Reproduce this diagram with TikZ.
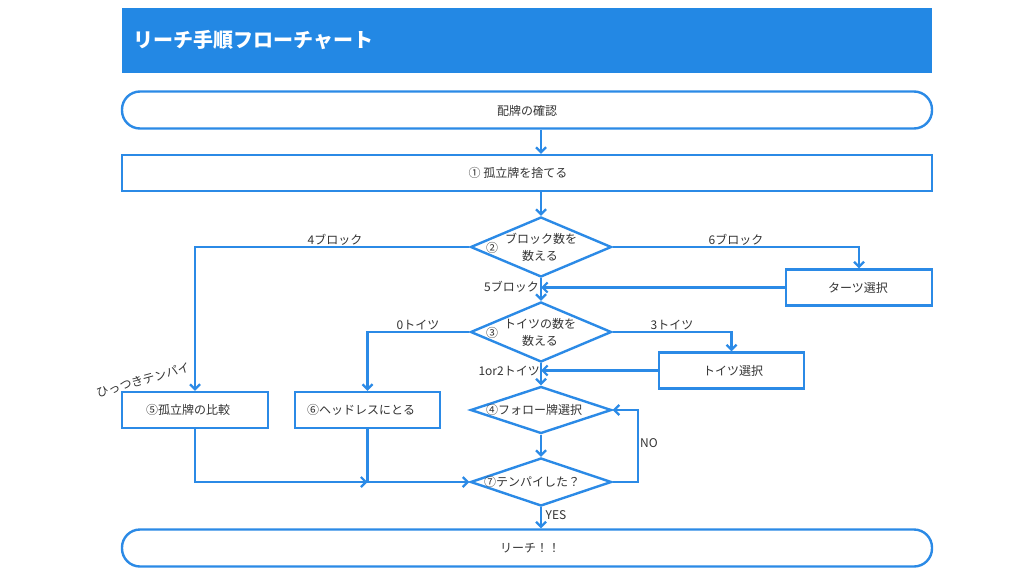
\documentclass[tikz,border=0pt]{standalone}
\usepackage{fontspec}
\setmainfont{Noto Sans CJK JP}
\usetikzlibrary{shapes.geometric,arrows.meta}
\definecolor{fcblue}{HTML}{2B8AE6}
\definecolor{titleblue}{HTML}{2388E4}
\definecolor{txtgray}{HTML}{333333}
\tikzset{
  line/.style={draw=fcblue, line width=2.4pt},
  arr/.style={line, -{Straight Barb[length=5pt,width=10pt,line width=2.2pt]}},
  box/.style={line, rectangle, fill=white, inner sep=0pt},
  pill/.style={line, rectangle, rounded corners=18pt, fill=white, inner sep=0pt},
  diam/.style={line, diamond, fill=white, inner sep=0pt},
  txt/.style={text=txtgray, font=\fontsize{12}{15}\selectfont, inner sep=0pt, align=center},
  lbl/.style={txt}
}
\begin{document}
\begin{tikzpicture}[x=1pt,y=-1pt]
\useasboundingbox (0,0) rectangle (1024,576);
% title
\node[rectangle, fill=titleblue, minimum width=810pt, minimum height=65pt, inner sep=0pt] (title) at (527,40.5) {};
\node[anchor=west, text=white, font=\fontsize{20}{24}\bfseries\selectfont, inner sep=0pt] (titletext) at (133,40) {リーチ手順フローチャート};
% nodes
\node[pill, minimum width=810pt, minimum height=37pt] (start) at (527,110) {};
\node[txt] (starttext) at (527,111) {配牌の確認};
\node[box, minimum width=810pt, minimum height=36pt] (b1) at (527,173) {};
\node[txt] (b1text) at (518,173) {① 孤立牌を捨てる};
\node[diam, minimum width=141pt, minimum height=60pt] (d2) at (541,247) {};
\node[txt] (d2num) at (492,248) {②};
\node[txt] (d2t1) at (541,239) {ブロック数を};
\node[txt] (d2t2) at (540,256) {数える};
\node[box, minimum width=146pt, minimum height=36pt] (tb) at (859,287.5) {};
\node[txt] (tbtext) at (858,288) {ターツ選択};
\node[diam, minimum width=141pt, minimum height=60pt] (d3) at (541,332) {};
\node[txt] (d3num) at (492,333) {③};
\node[txt] (d3t1) at (540,324) {トイツの数を};
\node[txt] (d3t2) at (540,341) {数える};
\node[box, minimum width=145pt, minimum height=36pt] (tt) at (731.5,370.5) {};
\node[txt] (tttext) at (733,371) {トイツ選択};
\node[box, minimum width=146pt, minimum height=36pt] (b5) at (195,410) {};
\node[txt] (b5text) at (188,410) {⑤孤立牌の比較};
\node[box, minimum width=145pt, minimum height=36pt] (b6) at (367.5,410) {};
\node[txt] (b6text) at (361,410) {⑥ヘッドレスにとる};
\node[diam, minimum width=141pt, minimum height=47pt] (d4) at (541,410) {};
\node[txt] (d4text) at (534,410) {④フォロー牌選択};
\node[diam, minimum width=141pt, minimum height=48pt] (d7) at (541,482) {};
\node[txt] (d7text) at (532,482) {⑦テンパイした？};
\node[pill, minimum width=810pt, minimum height=37pt] (end) at (527,548) {};
\node[txt] (endtext) at (530,548) {リーチ！！};
% connectors
\draw[arr] (start.south -| d2.north) -- (b1.north -| d2.north);
\draw[arr] (b1.south -| d2.north) -- (d2.north);
\draw[arr] (d2.west) -| (b5.north);
\draw[arr] (d2.east) -| (tb.north);
\draw[arr] (tb.west) -- (d2.south |- tb.west);
\draw[arr] (d2.south) -- (d3.north);
\draw[arr] (d3.west) -| (b6.north);
\draw[arr] (d3.east) -| (tt.north);
\draw[arr] (tt.west) -- (d3.south |- tt.west);
\draw[arr] (d3.south) -- (d4.north);
\draw[arr] (d4.south) -- (d7.north);
\draw[arr] (d7.east) -- ++(25,0) |- (d4.east);
\draw[arr] (d7.south) -- (end.north -| d7.south);
\draw[arr] (b5.south) |- (b6.south |- d7.west);
\draw[arr] (b6.south) |- (d7.west);
% labels
\node[lbl] (l4b) at (335,240) {4ブロック};
\node[lbl] (l6b) at (736,240) {6ブロック};
\node[lbl, anchor=east] (l5b) at (539,287) {5ブロック};
\node[lbl] (l0t) at (418,325) {0トイツ};
\node[lbl] (l3t) at (672,325) {3トイツ};
\node[lbl, anchor=east] (l12t) at (540,371) {1or2トイツ};
\node[lbl] (lno) at (649,443) {NO};
\node[lbl] (lyes) at (556,515) {YES};
\node[lbl, rotate=15.6] (lhit) at (143,380) {ひっつきテンパイ};
\end{tikzpicture}
\end{document}
